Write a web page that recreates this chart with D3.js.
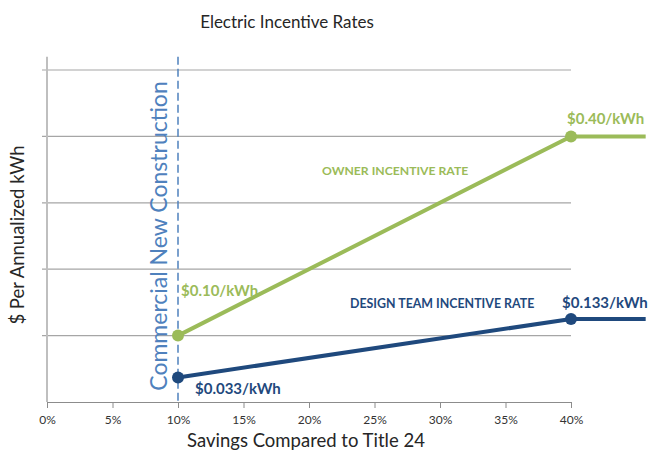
<!DOCTYPE html>
<html>
<head>
<meta charset="utf-8">
<script src="https://cdn.jsdelivr.net/npm/d3@7"></script>
<style>
  body { margin: 0; background: #fff; }
  text { font-family: Lato, "Open Sans", sans-serif; }
</style>
</head>
<body>
<div id="drawing_region"></div>
<script>
// savings (%) where each rate changes; last point carries the flat rate past 40%
var savings = [10, 40, 45.7];
var ownerRate = [0.10, 0.40, 0.40];
var designRate = [0.037, 0.125, 0.125];
var ownerLabels = ["$0.10/kWh", "$0.40/kWh"];
var designLabels = ["$0.033/kWh", "$0.133/kWh"];
var xTicks = [0, 5, 10, 15, 20, 25, 30, 35, 40];
var yGrid = [0.1, 0.2, 0.3, 0.4, 0.5];
var programStart = 10;

var width = 648, height = 453;
var green = "#9bbb59", navy = "#1f497d", lightBlue = "#4f81bd";

var svg = d3.select("#drawing_region").append("svg")
    .attr("width", width).attr("height", height);

var xScale = d3.scaleLinear().domain([0, 40]).range([47, 571]);
var yScale = d3.scaleLinear().domain([0, 0.5]).range([402, 70]);

// title
svg.append("text")
    .attr("x", 287).attr("y", 28)
    .attr("text-anchor", "middle")
    .attr("font-size", 17).attr("fill", "#262626")
    .text("Electric Incentive Rates");

// grid lines (with small outward tick at the y axis)
svg.append("g").selectAll("line")
    .data(yGrid).enter().append("line")
    .attr("x1", xScale(0) - 5).attr("x2", xScale(40))
    .attr("y1", function(d) { return yScale(d); })
    .attr("y2", function(d) { return yScale(d); })
    .attr("stroke", "#a6a6a6").attr("stroke-width", 1.2);

// y axis line
svg.append("line")
    .attr("x1", xScale(0)).attr("x2", xScale(0))
    .attr("y1", yScale(0.52)).attr("y2", yScale(0))
    .attr("stroke", "#bfbfbf").attr("stroke-width", 2);

// x axis
var xAxis = d3.axisBottom(xScale)
    .tickValues(xTicks)
    .tickFormat(function(d) { return d + "%"; })
    .tickSize(6).tickSizeOuter(0).tickPadding(7);
var gx = svg.append("g")
    .attr("transform", "translate(0," + yScale(0) + ")")
    .call(xAxis);
gx.select(".domain").attr("stroke", "#8c8c8c").attr("stroke-width", 1.2);
gx.selectAll(".tick line").attr("stroke", "#8c8c8c");
gx.selectAll(".tick text")
    .attr("font-family", "Lato, sans-serif")
    .attr("font-size", 12).attr("fill", "#333");

svg.append("text")
    .attr("x", 306).attr("y", 447)
    .attr("text-anchor", "middle")
    .attr("font-size", 18.5).attr("fill", "#262626")
    .text("Savings Compared to Title 24");

svg.append("text")
    .attr("transform", "translate(24,235) rotate(-90)")
    .attr("text-anchor", "middle")
    .attr("font-size", 18.5).attr("fill", "#262626")
    .text("$ Per Annualized kWh");

// program start marker
svg.append("line")
    .attr("x1", xScale(programStart)).attr("x2", xScale(programStart))
    .attr("y1", yScale(0.52)).attr("y2", yScale(0))
    .attr("stroke", lightBlue).attr("stroke-width", 1.5)
    .attr("stroke-dasharray", "8,4");

svg.append("text")
    .attr("transform", "translate(167,236) rotate(-90)")
    .attr("text-anchor", "middle")
    .attr("font-size", 23).attr("fill", lightBlue)
    .text("Commercial New Construction");

// rate lines
var line = d3.line()
    .x(function(d) { return xScale(d[0]); })
    .y(function(d) { return yScale(d[1]); });

function drawSeries(values, color) {
    var pts = savings.map(function(s, i) { return [s, values[i]]; });
    svg.append("path")
        .datum(pts)
        .attr("d", line)
        .attr("fill", "none")
        .attr("stroke", color).attr("stroke-width", 4);
    svg.append("g").selectAll("circle")
        .data(pts.slice(0, 2)).enter().append("circle")
        .attr("cx", function(d) { return xScale(d[0]); })
        .attr("cy", function(d) { return yScale(d[1]); })
        .attr("r", 6)
        .attr("fill", color);
}
drawSeries(ownerRate, green);
drawSeries(designRate, navy);

// value labels
function label(x, y, txt, color, size) {
    svg.append("text")
        .attr("x", x).attr("y", y)
        .attr("font-weight", "bold")
        .attr("font-size", size)
        .attr("fill", color)
        .text(txt);
}
label(xScale(savings[0]) + 3, yScale(ownerRate[0]) - 40, ownerLabels[0], green, 15);
label(xScale(savings[1]) - 4, yScale(ownerRate[1]) - 12, ownerLabels[1], green, 15);
label(xScale(savings[0]) + 17, yScale(designRate[0]) + 17, designLabels[0], navy, 15);
label(xScale(savings[1]) - 9, yScale(designRate[1]) - 11, designLabels[1], navy, 15);
label(322, 175, "OWNER INCENTIVE RATE", green, 12.2);
label(350, 308, "DESIGN TEAM INCENTIVE RATE", navy, 12.4);
</script>
</body>
</html>
